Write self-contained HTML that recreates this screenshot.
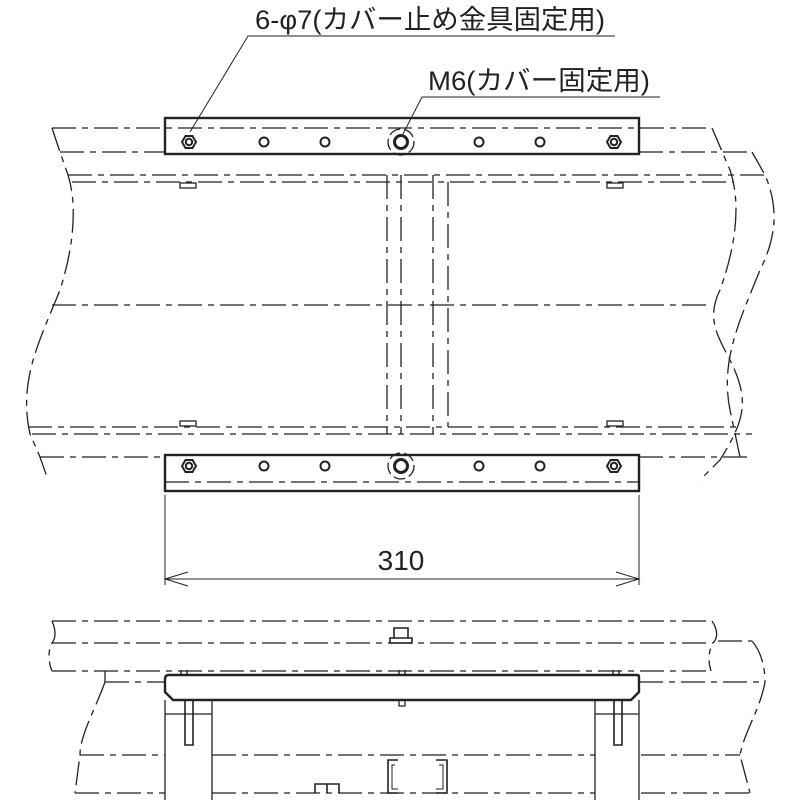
<!DOCTYPE html>
<html><head><meta charset="utf-8"><style>
html,body{margin:0;padding:0;background:#fff;}
svg{display:block;}
text{font-family:"Liberation Sans","Noto Sans CJK JP",sans-serif;fill:#222;}
</style></head><body>
<svg width="800" height="800" viewBox="0 0 800 800" xmlns="http://www.w3.org/2000/svg">
<g fill="none" stroke="#222" stroke-width="1.3">
 <g stroke-dasharray="24,6,6,6">
  <path d="M52,128 H712"/>
  <path d="M60,152 H165 M639,152 H752"/>
  <path d="M68,175 H765"/>
  <path d="M72,182 H733"/>
  <path d="M52,305 H712"/>
  <path d="M28,427 H738"/>
  <path d="M32,434 H752"/>
  <path d="M40,457 H165 M639,457 H750"/>
  <path d="M165,482 H639"/>
  <path d="M387,175 V434 M401,175 V434 M433,175 V434 M448,182 V427"/>
  <path d="M52,128 L60,152 L68,175 C76,200 76,240 60,290 C40,340 18,380 30,434 L40,457 L48,480"/>
  <path d="M712,128 L730,170 C740,200 738,240 720,290 C705,320 720,340 730,360 C750,400 745,420 720,460 L700,480"/>
  <path d="M752,152 L765,175 C780,210 775,240 760,270 C740,320 720,360 730,410 L740,457"/>
 </g>
 <rect x="180" y="183" width="16" height="5"/>
 <rect x="180" y="421" width="16" height="5"/>
 <rect x="607" y="183" width="16" height="5"/>
 <rect x="607" y="421" width="16" height="5"/>
 <rect x="165" y="118" width="474" height="36" stroke-width="2.4"/>
 <rect x="165" y="455" width="474" height="36" stroke-width="2.4"/>
 <g stroke-width="2">
  <circle cx="264" cy="142" r="4.5"/><circle cx="325" cy="142" r="4.5"/><circle cx="479" cy="142" r="4.5"/><circle cx="540" cy="142" r="4.5"/>
  <circle cx="264" cy="466" r="4.5"/><circle cx="325" cy="466" r="4.5"/><circle cx="479" cy="466" r="4.5"/><circle cx="540" cy="466" r="4.5"/>
  <polygon points="182,142 185.5,136 192.5,136 196,142 192.5,148 185.5,148"/><circle cx="189" cy="142" r="3.2"/>
  <polygon points="607,142 610.5,136 617.5,136 621,142 617.5,148 610.5,148"/><circle cx="614" cy="142" r="3.2"/>
  <polygon points="182,466 185.5,460 192.5,460 196,466 192.5,472 185.5,472"/><circle cx="189" cy="466" r="3.2"/>
  <polygon points="607,466 610.5,460 617.5,460 621,466 617.5,472 610.5,472"/><circle cx="614" cy="466" r="3.2"/>
  <circle cx="401" cy="142" r="6.5" stroke-width="3"/><circle cx="401" cy="466" r="6.5" stroke-width="3"/>
 </g>
 <circle cx="401" cy="142" r="13" stroke-dasharray="12,4"/>
 <circle cx="401" cy="466" r="13" stroke-dasharray="12,4"/>
 <path d="M615,36 H248 L190,132" stroke-width="1"/>
 <path d="M660,97 H422 L403,134" stroke-width="1"/>
 <path d="M165,495 V585 M639,495 V585 M165,579 H639" stroke-width="1"/>
 <path d="M188,572 L165,579 L188,586 M616,572 L639,579 L616,586" stroke-width="1"/>

 <g stroke-dasharray="24,6,6,6">
  <path d="M52,621 H712"/>
  <path d="M52,643 H713 M718,641 H752"/>
  <path d="M52,671 H711"/>
  <path d="M105,682 H165 M639,682 H765"/>
  <path d="M80,755 H165 M212,755 H595 M641,755 H740"/>
  <path d="M75,793 H165 M212,793 H595 M641,793 H750"/>
  <path d="M52,621 C56,630 56,638 52,643 C48,650 48,662 52,671"/>
  <path d="M105,671 L105,682"/>
  <path d="M712,621 C718,630 718,638 713,643 C708,652 708,662 711,671"/>
  <path d="M752,641 C760,650 765,665 765,682 C760,710 745,730 740,755 L750,793"/>
  <path d="M105,682 C95,710 80,735 80,755 L75,793"/>
 </g>
 <path d="M169,675 H637 Q639,675 639,677 V692 L631,700 H173 L165,692 V679 Q165,675 169,675 Z" stroke-width="2.4"/>
 <path d="M165,700 V800 M212,700 V800 M165,714 H212 M595,700 V800 M639,700 V800 M595,714 H639"/>
 <path d="M185,700 V745 H193 V700 M614,700 V745 H622 V700" stroke-width="1.6"/>
 <path d="M399,700 V706 H405 V700"/>
 <path d="M181,675 V670 M187,675 V670 M613,675 V670 M619,675 V670 M399,675 V670 M405,675 V670"/>
 <path d="M394,638 V628 H408 V638 M390,638 H412 V643 H390 Z" stroke-width="1.6"/>
 <path d="M315,793 V784 H339 V793 M327,784 V793" stroke-width="1.6"/>
 <path d="M398,760 H388 V793 H398 M436,760 H447 V793 H436" stroke-width="1.6"/>
 <path d="M395,765 H392 V789 H398 M439,765 H443 V789 H436" stroke-width="1"/>
</g>
<text x="255" y="29" font-size="27" textLength="350" lengthAdjust="spacingAndGlyphs">6-φ7(カバー止め金具固定用)</text>
<text x="428" y="90" font-size="27" textLength="222" lengthAdjust="spacingAndGlyphs">M6(カバー固定用)</text>
<text x="401" y="570" font-size="28" text-anchor="middle">310</text>
</svg>
</body></html>
